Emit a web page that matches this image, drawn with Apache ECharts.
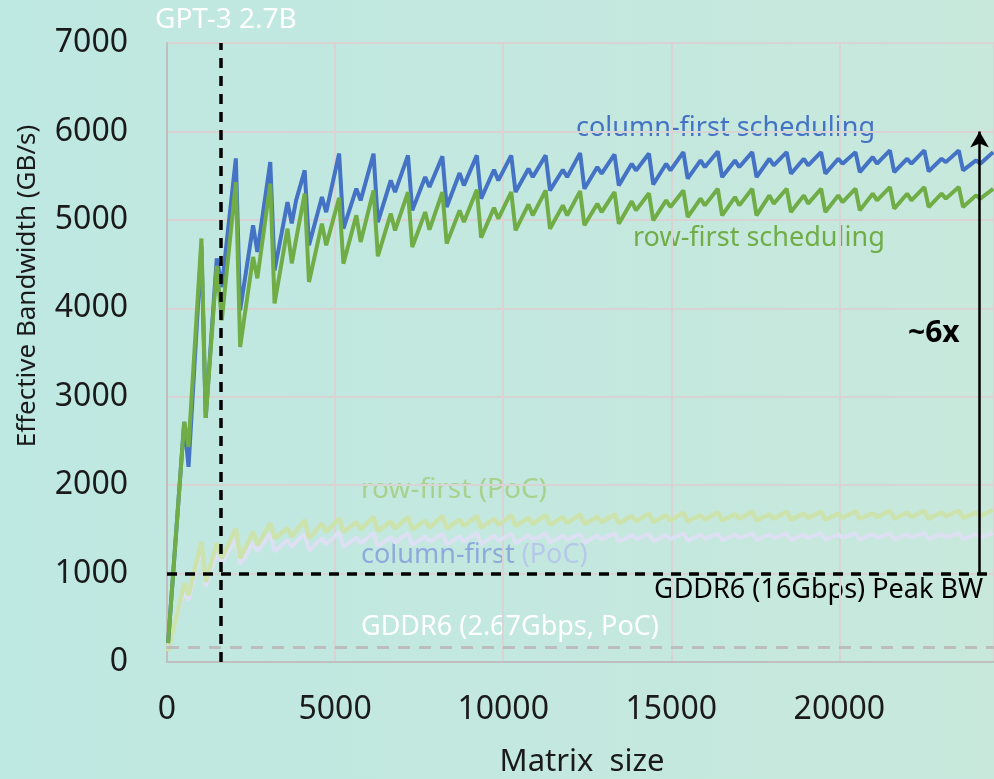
<!DOCTYPE html>
<html>
<head>
<meta charset="utf-8">
<script src="https://cdn.jsdelivr.net/npm/echarts@6/dist/echarts.min.js"></script>
<style>
  html, body { margin: 0; padding: 0; }
  #chart { width: 994px; height: 779px; }
</style>
</head>
<body>
<div id="chart"></div>
<script>
// matrix sizes (x values)
var sizes = [32, 512, 640, 1024, 1152, 1480, 1630, 2048,
  2176, 2560, 2688, 3072,
  3200, 3584, 3712, 3840, 4096,
  4224, 4608, 4736, 5120,
  5248, 5632, 5760, 6144,
  6272, 6656, 6784, 7168,
  7296, 7680, 7808, 8192,
  8320, 8704, 8832, 9216,
  9344, 9728, 9856, 10240,
  10368, 10752, 10880, 11264,
  11392, 11776, 11904, 12288,
  12416, 12800, 12928, 13312,
  13440, 13824, 13952, 14336,
  14464, 14848, 14976, 15360,
  15488, 15872, 16000, 16384,
  16512, 16896, 17024, 17408,
  17536, 17920, 18048, 18432,
  18560, 18944, 19072, 19456,
  19584, 19968, 20096, 20480,
  20608, 20992, 21120, 21504,
  21632, 22016, 22144, 22528,
  22656, 23040, 23168, 23552,
  23680, 24064, 24192, 24576];

// column-first scheduling (GB/s)
var colFirst = [215, 2715, 2207, 4700, 2760, 4565, 4240, 5695,
  3977, 4938, 4636, 5653,
  4429, 5201, 4960, 5220, 5559,
  4712, 5258, 5088, 5750,
  4900, 5352, 5220, 5748,
  4975, 5446, 5314, 5729,
  5107, 5484, 5371, 5718,
  5145, 5529, 5390, 5729,
  5240, 5567, 5446, 5729,
  5314, 5578, 5484, 5729,
  5333, 5567, 5484, 5755,
  5352, 5597, 5522, 5740,
  5390, 5635, 5559, 5750,
  5400, 5635, 5559, 5766,
  5466, 5672, 5597, 5774,
  5484, 5672, 5597, 5766,
  5484, 5691, 5616, 5766,
  5522, 5691, 5616, 5766,
  5522, 5691, 5635, 5766,
  5540, 5710, 5635, 5785,
  5540, 5691, 5635, 5785,
  5548, 5691, 5653, 5785,
  5559, 5672, 5635, 5766];

// row-first scheduling (GB/s)
var rowFirst = [215, 2715, 2433, 4790, 2760, 4480, 3864, 5427,
  3563, 4580, 4339, 5409,
  4056, 4900, 4508, 4780, 5296,
  4297, 4957, 4712, 5250,
  4505, 5051, 4749, 5333,
  4588, 5070, 4881, 5314,
  4693, 5088, 4889, 5314,
  4731, 5107, 4975, 5341,
  4799, 5137, 5013, 5314,
  4881, 5175, 5051, 5333,
  4900, 5164, 5051, 5325,
  4938, 5183, 5088, 5314,
  4957, 5209, 5107, 5300,
  4994, 5220, 5145, 5333,
  5032, 5240, 5164, 5352,
  5051, 5258, 5164, 5352,
  5051, 5277, 5183, 5352,
  5088, 5277, 5183, 5352,
  5088, 5277, 5201, 5352,
  5107, 5296, 5220, 5371,
  5126, 5296, 5220, 5371,
  5145, 5296, 5240, 5371,
  5145, 5277, 5240, 5352];

// row-first (PoC)
var rowFirstPoC = [120, 889, 757, 1360, 908, 1341, 1172, 1511,
  1172, 1472, 1322, 1567,
  1398, 1511, 1416, 1480, 1605,
  1398, 1567, 1472, 1623,
  1470, 1580, 1500, 1640,
  1480, 1590, 1510, 1640,
  1500, 1600, 1520, 1650,
  1510, 1610, 1540, 1650,
  1520, 1620, 1550, 1660,
  1540, 1630, 1560, 1660,
  1550, 1640, 1570, 1670,
  1560, 1640, 1580, 1670,
  1570, 1650, 1590, 1680,
  1580, 1660, 1600, 1690,
  1590, 1660, 1610, 1690,
  1600, 1670, 1620, 1700,
  1600, 1670, 1620, 1700,
  1610, 1680, 1630, 1700,
  1610, 1680, 1630, 1705,
  1620, 1680, 1640, 1710,
  1620, 1690, 1640, 1710,
  1620, 1690, 1650, 1710,
  1630, 1690, 1650, 1720];

// column-first (PoC)
var colFirstPoC = [180, 800, 700, 1285, 851, 1228, 1115, 1400,
  1100, 1350, 1250, 1450,
  1250, 1380, 1300, 1360, 1450,
  1260, 1400, 1330, 1470,
  1300, 1410, 1340, 1460,
  1310, 1410, 1350, 1460,
  1320, 1420, 1360, 1450,
  1330, 1420, 1360, 1460,
  1330, 1430, 1370, 1450,
  1340, 1430, 1380, 1455,
  1350, 1430, 1380, 1450,
  1350, 1430, 1385, 1455,
  1360, 1435, 1390, 1450,
  1365, 1435, 1390, 1455,
  1370, 1440, 1395, 1450,
  1375, 1440, 1400, 1455,
  1380, 1440, 1400, 1455,
  1380, 1440, 1400, 1455,
  1385, 1440, 1405, 1455,
  1385, 1445, 1405, 1455,
  1385, 1445, 1410, 1455,
  1390, 1445, 1410, 1455,
  1390, 1445, 1410, 1460];

var gddr6Peak = 1000;     // 16Gbps
var gddr6PoC = 167;       // 2.67Gbps, PoC
var gpt3Size = 1600;      // GPT-3 2.7B
var arrowX = 24170;
var arrowTop = 6000;

function pairs(ys) {
  return sizes.map(function (s, i) { return [s, ys[i]]; });
}

var FONT = '"Noto Sans", sans-serif';
var myChart = echarts.init(document.getElementById('chart'));

var option = {
  animation: false,
  backgroundColor: new echarts.graphic.LinearGradient(0, 0, 1, 0, [
    { offset: 0, color: '#bee8e2' },
    { offset: 1, color: '#c8e8dc' }
  ]),
  grid: { left: 167, right: 0, top: 43, bottom: 117, containLabel: false, outerBoundsMode: 'none' },
  xAxis: {
    type: 'value',
    min: 0, max: 24600, interval: 5000,
    axisLine: { lineStyle: { color: '#bfbfbf', width: 2 } },
    axisTick: { show: false },
    axisLabel: {
      color: '#1a1a1a', fontSize: 32, fontFamily: FONT, margin: 32,
      showMaxLabel: false, formatter: function (v) { return String(v); }
    },
    splitLine: { lineStyle: { color: '#d9d3d3', width: 2 } }
  },
  yAxis: {
    type: 'value',
    min: 0, max: 7000, interval: 1000,
    axisLine: { show: true, lineStyle: { color: '#bfbfbf', width: 2 } },
    axisTick: { show: false },
    axisLabel: {
      color: '#1a1a1a', fontSize: 32, fontFamily: FONT, margin: 39,
      formatter: function (v) { return String(v); }
    },
    splitLine: { lineStyle: { color: '#d9d3d3', width: 2 } }
  },
  series: [
    {
      name: 'column-first (PoC)', type: 'line', data: pairs(colFirstPoC),
      showSymbol: false, lineStyle: { color: '#dde0f2', width: 4 }
    },
    {
      name: 'row-first (PoC)', type: 'line', data: pairs(rowFirstPoC),
      showSymbol: false, lineStyle: { color: '#cde3ad', width: 4.5 },
      markLine: {
        silent: true, symbol: 'none', label: { show: false },
        lineStyle: { color: '#bdbdbd', width: 3, type: [12, 9] },
        data: [{ yAxis: gddr6PoC }]
      }
    },
    {
      name: 'column-first scheduling', type: 'line', data: pairs(colFirst),
      showSymbol: false, lineStyle: { color: '#4472c4', width: 4 }
    },
    {
      name: 'row-first scheduling', type: 'line', data: pairs(rowFirst),
      showSymbol: false, lineStyle: { color: '#70ad47', width: 4 },
      markLine: {
        silent: true, symbol: 'none', label: { show: false },
        lineStyle: { color: '#000', width: 3.5, type: [10, 8] },
        data: [{ yAxis: gddr6Peak }, { xAxis: gpt3Size }]
      }
    },
    {
      name: 'arrow', type: 'line', data: [],
      markLine: {
        silent: true, symbol: ['none', 'arrow'], symbolSize: [14, 16],
        label: { show: false },
        lineStyle: { color: '#000', width: 2.5, type: 'solid' },
        data: [[{ coord: [arrowX, gddr6Peak] }, { coord: [arrowX, arrowTop] }]]
      }
    }
  ],
  graphic: [
    { type: 'text', x: 28, y: 286, rotation: Math.PI / 2,
      style: { text: 'Effective Bandwidth (GB/s)', fill: '#1a1a1a', font: '26px ' + FONT, align: 'center', verticalAlign: 'middle' } },
    { type: 'text', x: 582, y: 762,
      style: { text: 'Matrix  size', fill: '#1a1a1a', font: '31px ' + FONT, align: 'center', verticalAlign: 'middle' } },
    { type: 'text', x: 155, y: 20,
      style: { text: 'GPT-3 2.7B', fill: '#ffffff', font: '28px ' + FONT, align: 'left', verticalAlign: 'middle' } },
    { type: 'text', x: 576, y: 128,
      style: { text: 'column-first scheduling', fill: '#4472c4', font: '27px ' + FONT, align: 'left', verticalAlign: 'middle' } },
    { type: 'text', x: 633, y: 238,
      style: { text: 'row-first scheduling', fill: '#70ad47', font: '27px ' + FONT, align: 'left', verticalAlign: 'middle' } },
    { type: 'text', x: 908, y: 333,
      style: { text: '~6x', fill: '#000', font: 'bold 30px ' + FONT, align: 'left', verticalAlign: 'middle' } },
    { type: 'text', x: 361, y: 490,
      style: { text: 'row-first (PoC)', fill: '#a9d18e', font: '28px ' + FONT, align: 'left', verticalAlign: 'middle' } },
    { type: 'text', x: 361, y: 555,
      style: {
        text: '{a|column-first} {b|(PoC)}', font: '27px ' + FONT, align: 'left', verticalAlign: 'middle',
        rich: {
          a: { fill: '#8eaadc', font: '27px ' + FONT },
          b: { fill: '#b7c8ea', font: '27px ' + FONT }
        }
      } },
    { type: 'text', x: 654, y: 590,
      style: { text: 'GDDR6 (16Gbps) Peak BW', fill: '#000', font: '27px ' + FONT, align: 'left', verticalAlign: 'middle' } },
    { type: 'text', x: 361, y: 627,
      style: { text: 'GDDR6 (2.67Gbps, PoC)', fill: '#ffffff', font: '27px ' + FONT, align: 'left', verticalAlign: 'middle' } }
  ]
};

myChart.setOption(option);
</script>
</body>
</html>
